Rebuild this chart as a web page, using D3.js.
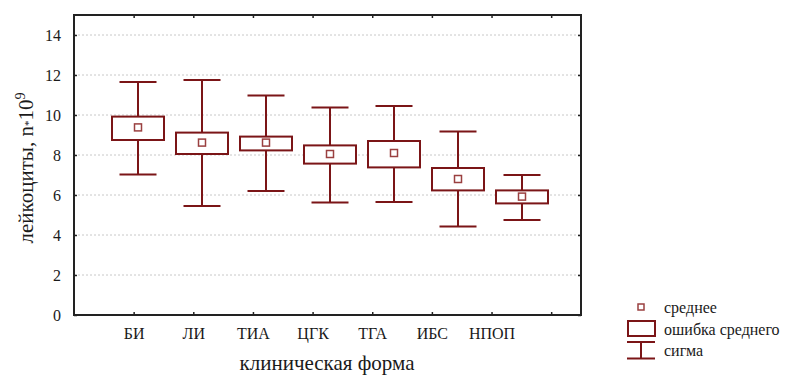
<!DOCTYPE html>
<html>
<head>
<meta charset="utf-8">
<script src="https://cdn.jsdelivr.net/npm/d3@7"></script>
<style>
  body { margin: 0; background: #fff; }
  svg text { font-family: "Liberation Serif", "Times New Roman", Tinos, "DejaVu Serif", "Noto Serif", serif !important; fill: #1a1a1a; }
</style>
</head>
<body>
<div id="chart"></div>
<script>
// categories and values
const categories = ["БИ", "ЛИ", "ТИА", "ЦГК", "ТГА", "ИБС", "НПОП"];
const means    = [9.38, 8.62, 8.62, 8.05, 8.10, 6.80, 5.92];
const seLow    = [8.75, 8.05, 8.23, 7.57, 7.38, 6.23, 5.58];
const seHigh   = [9.92, 9.12, 8.92, 8.48, 8.70, 7.35, 6.23];
const sdLow    = [7.02, 5.45, 6.20, 5.63, 5.65, 4.42, 4.75];
const sdHigh   = [11.65, 11.75, 10.97, 10.38, 10.45, 9.18, 7.00];
const yTicks   = [0, 2, 4, 6, 8, 10, 12, 14];
const xTicks   = [1, 2, 3, 4, 5, 6, 7, 8];
const legendLabels = ["среднее", "ошибка среднего", "сигма"];

const W = 795, H = 376;
const pLeft = 74, pRight = 581, pTop = 15, pBottom = 315;
const col = "#7b1517";

const svg = d3.select("#chart").append("svg")
  .attr("width", W).attr("height", H);

const y = d3.scaleLinear().domain([0, 15]).range([pBottom, pTop]);
// tick/label axis
const x = d3.scaleLinear().domain([0, 8.5]).range([pLeft, pRight]);
// boxes sit on their own spacing in the original
const xb = d3.scalePoint().domain(categories).range([138, 522]);

// grid
svg.append("g").selectAll("line")
  .data(yTicks.filter(d => d > 0))
  .enter().append("line")
  .attr("x1", pLeft).attr("x2", pRight)
  .attr("y1", d => y(d)).attr("y2", d => y(d))
  .attr("stroke", "#c8c8c8").attr("stroke-width", 1)
  .attr("stroke-dasharray", "2,2");

// axes with inner ticks
const yAxis = svg.append("g").attr("transform", `translate(${pLeft},0)`)
  .call(d3.axisLeft(y).tickValues(yTicks).tickSize(-3).tickPadding(13));
yAxis.select(".domain").remove();
yAxis.selectAll("text").attr("font-size", 16);

const yAxisR = svg.append("g").attr("transform", `translate(${pRight},0)`)
  .call(d3.axisRight(y).tickValues(yTicks).tickSize(-3).tickFormat(""));
yAxisR.select(".domain").remove();

const xAxis = svg.append("g").attr("transform", `translate(0,${pBottom})`)
  .call(d3.axisBottom(x).tickValues(xTicks).tickSize(-3).tickPadding(13)
    .tickFormat(d => categories[d - 1] || ""));
xAxis.select(".domain").remove();
xAxis.selectAll("text").attr("font-size", 16);

const xAxisT = svg.append("g").attr("transform", `translate(0,${pTop})`)
  .call(d3.axisTop(x).tickValues(xTicks).tickSize(-3).tickFormat(""));
xAxisT.select(".domain").remove();

svg.selectAll(".tick line").attr("stroke", "#222").attr("stroke-width", 1.5);

// frame
svg.append("rect")
  .attr("x", pLeft).attr("y", pTop)
  .attr("width", pRight - pLeft).attr("height", pBottom - pTop)
  .attr("fill", "none").attr("stroke", "#222").attr("stroke-width", 2);

// boxes
const data = categories.map((c, i) => ({
  c, m: means[i], lo: seLow[i], hi: seHigh[i], sl: sdLow[i], sh: sdHigh[i]
}));
const boxW = 52, capW = 37, mk = 7;

const g = svg.append("g").selectAll("g").data(data).enter().append("g");
g.append("line")
  .attr("x1", d => xb(d.c)).attr("x2", d => xb(d.c))
  .attr("y1", d => y(d.sh)).attr("y2", d => y(d.hi))
  .attr("stroke", col).attr("stroke-width", 2);
g.append("line")
  .attr("x1", d => xb(d.c)).attr("x2", d => xb(d.c))
  .attr("y1", d => y(d.lo)).attr("y2", d => y(d.sl))
  .attr("stroke", col).attr("stroke-width", 2);
g.append("line")
  .attr("x1", d => xb(d.c) - capW / 2).attr("x2", d => xb(d.c) + capW / 2)
  .attr("y1", d => y(d.sh)).attr("y2", d => y(d.sh))
  .attr("stroke", col).attr("stroke-width", 2);
g.append("line")
  .attr("x1", d => xb(d.c) - capW / 2).attr("x2", d => xb(d.c) + capW / 2)
  .attr("y1", d => y(d.sl)).attr("y2", d => y(d.sl))
  .attr("stroke", col).attr("stroke-width", 2);
g.append("rect")
  .attr("x", d => xb(d.c) - boxW / 2).attr("width", boxW)
  .attr("y", d => y(d.hi)).attr("height", d => y(d.lo) - y(d.hi))
  .attr("fill", "#fff").attr("stroke", col).attr("stroke-width", 2);
g.append("rect")
  .attr("x", d => xb(d.c) - mk / 2).attr("width", mk)
  .attr("y", d => y(d.m) - mk / 2).attr("height", mk)
  .attr("fill", "none").attr("stroke", "#9a4040").attr("stroke-width", 1.5);

// axis titles
svg.append("text")
  .attr("transform", "translate(33,168) rotate(-90)")
  .attr("text-anchor", "middle")
  .attr("font-size", 21)
  .call(t => {
    t.append("tspan").text("лейкоциты, n");
    t.append("tspan").attr("font-size", 11).attr("dy", -1).text("*");
    t.append("tspan").attr("dy", 1).text("10");
    t.append("tspan").attr("font-size", 14).attr("dy", -8).text("9");
  });

svg.append("text")
  .attr("x", 327).attr("y", 370)
  .attr("text-anchor", "middle")
  .attr("font-size", 21)
  .text("клиническая форма");

// legend
const lg = svg.append("g");
lg.append("rect").attr("x", 638).attr("y", 304).attr("width", 6).attr("height", 6)
  .attr("fill", "none").attr("stroke", "#9a4040").attr("stroke-width", 1.5);
lg.append("rect").attr("x", 628).attr("y", 321).attr("width", 27).attr("height", 15)
  .attr("fill", "none").attr("stroke", col).attr("stroke-width", 2);
lg.append("line").attr("x1", 627).attr("x2", 655).attr("y1", 342).attr("y2", 342)
  .attr("stroke", col).attr("stroke-width", 2);
lg.append("line").attr("x1", 627).attr("x2", 655).attr("y1", 358.5).attr("y2", 358.5)
  .attr("stroke", col).attr("stroke-width", 2);
lg.append("line").attr("x1", 641).attr("x2", 641).attr("y1", 342).attr("y2", 358.5)
  .attr("stroke", col).attr("stroke-width", 2);
lg.selectAll("text.lab").data(legendLabels).enter().append("text")
  .attr("class", "lab")
  .attr("x", 664).attr("y", (d, i) => 313 + i * 21.5)
  .attr("font-size", 16)
  .text(d => d);
</script>
</body>
</html>
